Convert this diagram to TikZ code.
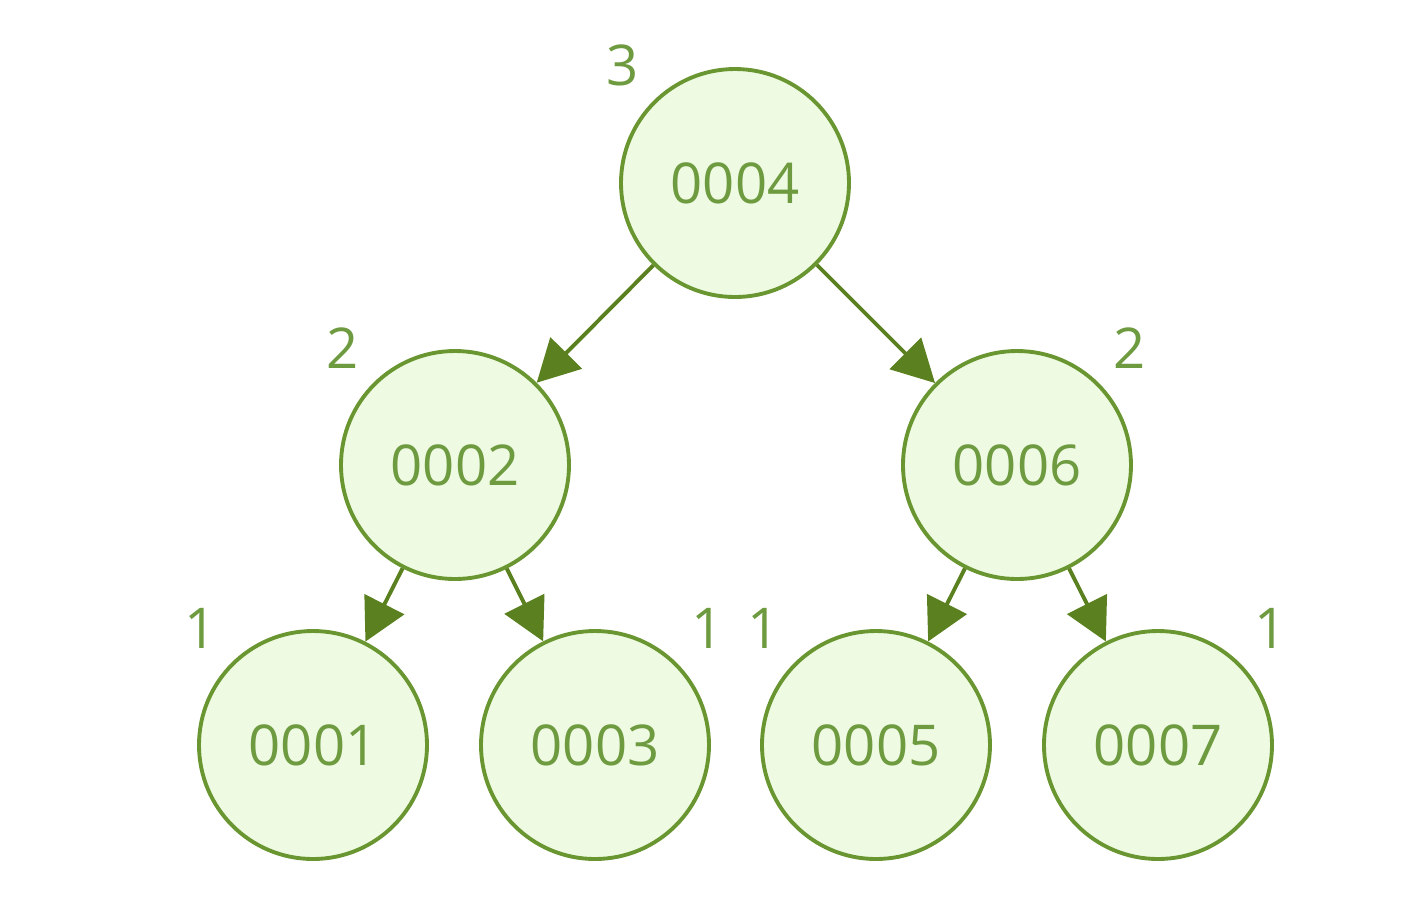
\documentclass[tikz,border=0pt]{standalone}
\usepackage{fontspec}
\setmainfont{Open Sans}
\usepackage{tikz}
\usetikzlibrary{arrows.meta, positioning}
\definecolor{leafgreen}{HTML}{EEFBE2}
\definecolor{rimgreen}{HTML}{6A9632}
\definecolor{edgegreen}{HTML}{5A801F}
\definecolor{textgreen}{HTML}{6E9A40}

\begin{document}
\begin{tikzpicture}[
    avl/.style={circle, draw=rimgreen, fill=leafgreen, line width=1.1pt, minimum size=2.28cm, inner sep=0pt, text=textgreen, font=\fontsize{16}{19}\selectfont},
    lbl/.style={text=textgreen, font=\fontsize{16}{19}\selectfont, inner sep=0pt, label distance=0.2cm},
    arr/.style={-{Triangle[length=0.42cm, width=0.44cm]}, line width=1.1pt, draw=edgegreen, fill=edgegreen},
]
\useasboundingbox (0,0) rectangle (14.22,-9.08);

% Root
\node[avl, label={[lbl]135:3}] (n4) at (7.35,-1.83) {0004};

% Second level
\node[avl, label={[lbl]135:2}] (n2) at (4.55,-4.65) {0002};
\node[avl, label={[lbl]45:2}] (n6) at (10.17,-4.65) {0006};

% Leaves
\node[avl, label={[lbl]135:1}] (n1) at (3.13,-7.45) {0001};
\node[avl, label={[lbl]45:1}] (n3) at (5.95,-7.45) {0003};
\node[avl, label={[lbl]135:1}] (n5) at (8.76,-7.45) {0005};
\node[avl, label={[lbl]45:1}] (n7) at (11.58,-7.45) {0007};

% Arrows
\draw[arr] (n4) -- (n2);
\draw[arr] (n4) -- (n6);
\draw[arr] (n2) -- (n1);
\draw[arr] (n2) -- (n3);
\draw[arr] (n6) -- (n5);
\draw[arr] (n6) -- (n7);

\end{tikzpicture}
\end{document}
